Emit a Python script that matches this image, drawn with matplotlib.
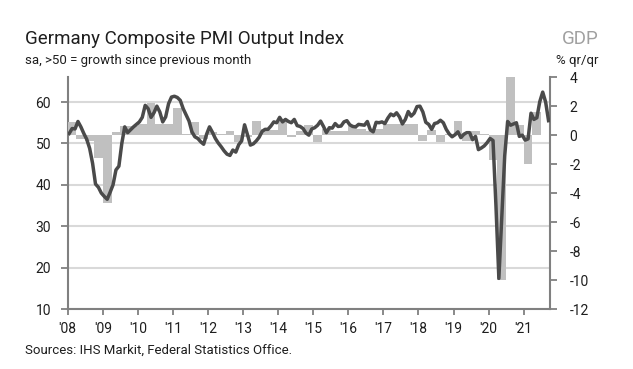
import numpy as np
import matplotlib
matplotlib.use("Agg")
import matplotlib.pyplot as plt

plt.rcParams['font.family'] = ['Roboto', 'DejaVu Sans']
plt.rcParams['axes.unicode_minus'] = False

# Germany composite PMI output index, monthly, Jan 2008 - Sep 2021
pmi_2008 = [52.4, 53.6, 53.5, 55.3, 54.0, 52.4, 51.0, 48.8, 45.2, 40.2, 39.4, 38.0]
pmi_2009 = [37.2, 36.5, 38.2, 40.0, 43.6, 44.5, 50.0, 54.0, 52.6, 53.3, 54.0, 54.6]
pmi_2010 = [55.2, 56.3, 59.2, 58.4, 56.3, 57.4, 59.0, 57.6, 55.2, 56.4, 59.6, 61.2]
pmi_2011 = [61.4, 61.1, 60.4, 58.4, 56.9, 55.4, 52.8, 51.6, 51.2, 50.4, 49.8, 52.2]
pmi_2012 = [54.0, 52.7, 51.2, 50.1, 49.2, 48.2, 47.4, 47.1, 48.4, 47.9, 49.7, 50.6]
pmi_2013 = [54.5, 52.1, 49.6, 49.9, 50.6, 51.5, 52.9, 53.4, 53.4, 54.2, 55.2, 55.0]
pmi_2014 = [56.3, 55.2, 55.8, 55.3, 55.0, 55.8, 54.3, 54.1, 53.6, 52.5, 52.0, 53.5]
pmi_2015 = [53.8, 54.4, 55.4, 54.1, 52.6, 53.8, 53.7, 54.8, 54.1, 54.2, 55.2, 55.5]
pmi_2016 = [54.5, 54.1, 54.0, 54.6, 54.5, 54.4, 55.3, 53.3, 52.8, 55.1, 55.0, 55.2]
pmi_2017 = [54.8, 56.1, 57.1, 56.7, 57.4, 56.4, 54.7, 55.8, 57.7, 56.6, 57.3, 58.9]
pmi_2018 = [59.0, 57.6, 55.1, 54.6, 53.4, 54.8, 55.0, 55.6, 55.0, 53.4, 52.3, 51.6]
pmi_2019 = [52.1, 52.8, 51.4, 52.2, 52.6, 52.6, 50.9, 51.7, 48.5, 48.9, 49.4, 50.2]
pmi_2020 = [51.2, 50.7, 35.0, 17.4, 32.3, 47.0, 55.3, 54.4, 54.7, 55.0, 51.7, 52.0]
pmi_2021 = [50.8, 51.1, 57.3, 55.8, 56.2, 60.1, 62.4, 60.0, 55.5]

# GDP, % q/q, 2008Q1 - 2021Q2
gdp = [0.9, -0.3, -0.4, -1.6,
       -4.7, 0.2, 0.6, 0.6,
       0.8, 2.2, 0.8, 0.8,
       1.9, 0.1, 0.9, -0.3,
       0.2, 0.1, 0.3, -0.45,
       -0.1, 1.0, 0.45, 0.35,
       1.0, -0.1, 0.3, 0.7,
       -0.5, 0.4, 0.3, 0.3,
       0.6, 0.4, 0.3, 0.4,
       0.8, 0.8, 0.8, 0.8,
       -0.4, 0.35, -0.45, 0.1,
       1.0, -0.4, 0.3, 0.05,
       -1.7, -10.0, 8.7, 0.7,
       -2.0, 1.6]

years = list(range(2008, 2022))
year_labels = ["'%02d" % (y % 100) for y in years]

pmi = (pmi_2008 + pmi_2009 + pmi_2010 + pmi_2011 + pmi_2012 + pmi_2013 + pmi_2014
       + pmi_2015 + pmi_2016 + pmi_2017 + pmi_2018 + pmi_2019 + pmi_2020 + pmi_2021)
t_pmi = 2008 + (np.arange(len(pmi)) + 0.5) / 12
t_gdp = 2008 + np.arange(len(gdp)) / 4

axis_grey = '#808080'
text_col = '#1e1e1e'

fig = plt.figure(figsize=(6.33, 3.69), dpi=100)
rect = [0.107, 0.1626, 0.7619, 0.6282]

# PMI scale (left) carries the grid
ax = fig.add_axes(rect)
ax.set_zorder(0)
ax.set_xlim(2008, 2021.75)
ax.set_ylim(10, 66)
ax.set_yticks([10, 20, 30, 40, 50, 60])
ax.set_xticks(years)
ax.set_xticklabels(year_labels)
ax.grid(axis='y', color='#d9d9d9', lw=1.5)
ax.set_axisbelow(True)

# GDP bars on the right scale, above the grid
ax2 = ax.twinx()
ax2.set_zorder(1)
ax2.patch.set_visible(False)
ax2.bar(t_gdp, gdp, width=0.25, align='edge', color='#c0c0c0', lw=0)
ax2.set_ylim(-12, 4)
ax2.set_yticks(range(-12, 5, 2))
for lab in ax2.get_yticklabels():
    lab.set_horizontalalignment('left')

# PMI line on top of everything
ax3 = fig.add_axes(rect, sharex=ax, sharey=ax, frameon=False)
ax3.set_zorder(2)
ax3.patch.set_visible(False)
ax3.plot(t_pmi, pmi, color='#4a4a4a', lw=2.5, solid_joinstyle='round')
ax3.axis('off')

for a in (ax, ax2):
    a.spines['top'].set_visible(False)
    for s in ('left', 'right', 'bottom'):
        a.spines[s].set_color(axis_grey)
        a.spines[s].set_linewidth(1.5)
ax.spines['right'].set_visible(False)
ax2.spines['left'].set_visible(False)
ax2.spines['bottom'].set_visible(False)

ax.tick_params(axis='x', direction='out', length=4, width=1.3, color=axis_grey,
               labelsize=10, labelcolor=text_col, pad=5)
ax.tick_params(axis='y', direction='out', length=5, width=1.3, color=axis_grey,
               labelsize=10, labelcolor=text_col, pad=7)
ax2.tick_params(axis='y', direction='out', length=5, width=1.3, color=axis_grey,
                labelsize=10, labelcolor=text_col, pad=9)

fig.text(0.0395, 0.882, 'Germany Composite PMI Output Index', fontsize=13.5,
         color=text_col, va='baseline', ha='left')
fig.text(0.0395, 0.827, 'sa, >50 = growth since previous month', fontsize=9.5,
         color=text_col, va='baseline', ha='left')
fig.text(0.945, 0.882, 'GDP', fontsize=13.5, color='#a0a0a0', va='baseline', ha='right')
fig.text(0.945, 0.827, '% qr/qr', fontsize=9.5, color=text_col, va='baseline', ha='right')
fig.text(0.0395, 0.0515, 'Sources: IHS Markit, Federal Statistics Office.', fontsize=9.5,
         color=text_col, va='center', ha='left')

fig.savefig('out.png', dpi=100)
